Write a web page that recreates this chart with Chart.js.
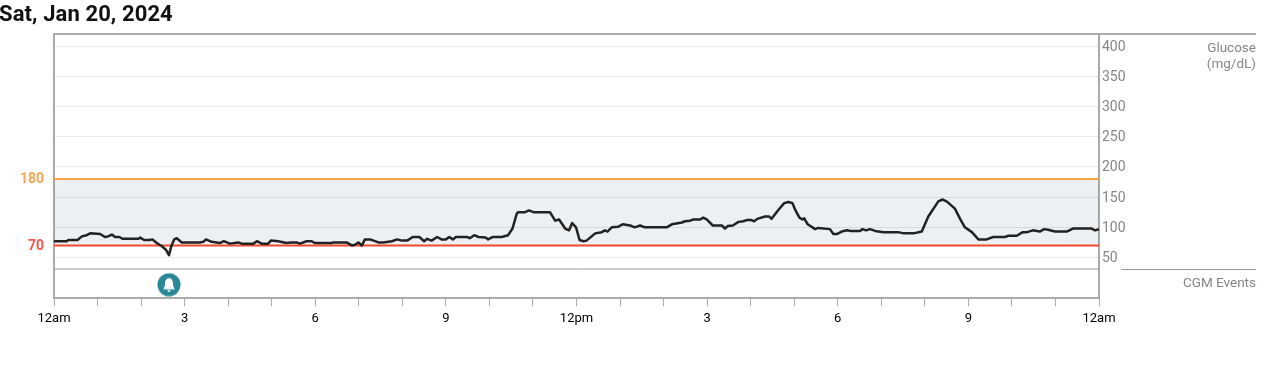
<!DOCTYPE html>
<html>
<head>
<meta charset="utf-8">
<title>Sat, Jan 20, 2024</title>
<script src="https://cdn.jsdelivr.net/npm/chart.js@4"></script>
<style>
    html, body { margin: 0; background: #fff; overflow: hidden; }
    #wrap { position: relative; width: 1273px; height: 365px; }
    #day { position: absolute; left: -1px; top: 1px; font: 700 22px Roboto, sans-serif; letter-spacing: 0.1px; color: #111; }
    canvas { position: absolute; left: 0; top: 0; }
</style>
</head>
<body>
<div id="wrap">
    <canvas id="cgmChart" width="1273" height="365"></canvas>
    <div id="day">Sat, Jan 20, 2024</div>
</div>
<script>
// readings, hours since midnight / mg/dL
const hours = [
    0, .29, .33, .54, .64, .75, .83, 1.06, 1.17, 1.24,
    1.33, 1.40, 1.50, 1.58, 1.94, 1.98, 2.07, 2.20, 2.26, 2.36,
    2.47, 2.57, 2.64, 2.70, 2.76, 2.82, 2.93, 3.35, 3.43, 3.49,
    3.62, 3.81, 3.90, 4.04, 4.23, 4.31, 4.58, 4.66, 4.77, 4.92,
    4.98, 5.15, 5.34, 5.44, 5.57, 5.65, 5.80, 5.92, 5.99, 6.11,
    6.38, 6.41, 6.72, 6.84, 6.91, 6.99, 7.07, 7.14, 7.26, 7.45,
    7.56, 7.76, 7.88, 7.99, 8.11, 8.24, 8.39, 8.50, 8.57, 8.67,
    8.80, 8.90, 9.00, 9.08, 9.16, 9.23, 9.48, 9.55, 9.65, 9.75,
    9.91, 9.97, 10.08, 10.28, 10.43, 10.53, 10.63, 10.66, 10.82, 10.91,
    11.01, 11.39, 11.51, 11.60, 11.74, 11.83, 11.90, 11.99, 12.07, 12.16,
    12.23, 12.43, 12.58, 12.65, 12.71, 12.81, 12.96, 13.06, 13.23, 13.34,
    13.46, 13.57, 14.07, 14.19, 14.42, 14.49, 14.61, 14.68, 14.84, 14.91,
    14.99, 15.13, 15.34, 15.41, 15.47, 15.59, 15.72, 15.83, 15.91, 16.02,
    16.08, 16.15, 16.33, 16.42, 16.48, 16.64, 16.77, 16.87, 16.96, 17.03,
    17.12, 17.19, 17.23, 17.31, 17.48, 17.55, 17.82, 17.90, 17.99, 18.09,
    18.21, 18.30, 18.51, 18.57, 18.65, 18.74, 18.86, 19.05, 19.39, 19.51,
    19.74, 19.93, 20.08, 20.31, 20.41, 20.50, 20.58, 20.69, 20.81, 20.92,
    21.08, 21.23, 21.42, 21.57, 21.84, 21.92, 22.11, 22.25, 22.35, 22.48,
    22.64, 22.74, 22.83, 22.99, 23.26, 23.40, 23.83, 23.91, 24
];
const glucose = [
    77, 77, 79, 79, 85, 87, 90, 89, 84, 85,
    88, 84, 84, 81, 81, 83, 79, 79, 80, 74,
    69, 63, 54, 70, 80, 82, 75, 75, 76, 80,
    76, 74, 77, 73, 75, 73, 73, 77, 73, 73,
    78, 77, 74, 75, 75, 73, 77, 77, 74, 74,
    74, 75, 75, 70, 71, 75, 70, 80, 80, 75,
    75, 77, 80, 78, 78, 84, 84, 77, 81, 78,
    84, 80, 80, 84, 80, 84, 84, 82, 87, 84,
    83, 80, 84, 84, 87, 98, 123, 125, 125, 128,
    125, 125, 111, 113, 98, 95, 107, 100, 79, 77,
    78, 90, 92, 95, 93, 100, 101, 105, 103, 100,
    103, 100, 100, 105, 108, 110, 111, 113, 113, 116,
    113, 103, 103, 98, 102, 103, 109, 110, 112, 112,
    110, 114, 118, 118, 114, 129, 140, 142, 140, 128,
    116, 113, 115, 105, 97, 99, 97, 89, 89, 93,
    95, 94, 94, 97, 95, 97, 94, 92, 92, 90,
    90, 93, 118, 143, 146, 143, 138, 131, 114, 100,
    92, 80, 80, 84, 84, 86, 86, 92, 92, 95,
    93, 97, 96, 93, 93, 98, 98, 95, 97
];
const targetLow = 70;
const targetHigh = 180;
const glucoseTicks = [50, 100, 150, 200, 250, 300, 350, 400];
const hourTicks = ['12am', '3', '6', '9', '12pm', '3', '6', '9', '12am'];
const eventHours = [2.64];

const GREY = '#aaaaaa';
const TEXT = '#8a8583';
const yMin = -17, yMax = 420, eventsTop = 31;

function bellIcon() {
    const c = document.createElement('canvas');
    c.width = 24; c.height = 24;
    const g = c.getContext('2d');
    g.fillStyle = '#2a8896';
    g.beginPath(); g.arc(12, 12, 11.5, 0, Math.PI * 2); g.fill();
    g.fillStyle = '#fff';
    g.beginPath();
    g.moveTo(12, 5.5);
    g.bezierCurveTo(15, 5.5, 16, 8, 16, 11);
    g.bezierCurveTo(16, 14, 17, 15, 18, 16.5);
    g.lineTo(6, 16.5);
    g.bezierCurveTo(7, 15, 8, 14, 8, 11);
    g.bezierCurveTo(8, 8, 9, 5.5, 12, 5.5);
    g.fill();
    g.fillRect(10.7, 17.3, 2.6, 1.6);
    return c;
}

// side labels and the rules that run past the plot on the right
const sidePanel = {
    id: 'sidePanel',
    afterDraw(chart) {
        const { ctx, chartArea, scales } = chart;
        const yDiv = Math.round(scales.y.getPixelForValue(eventsTop)) + 0.5;
        ctx.save();
        ctx.strokeStyle = GREY;
        ctx.lineWidth = 2;
        ctx.beginPath();
        ctx.moveTo(chartArea.left - 1, chartArea.top);
        ctx.lineTo(1256, chartArea.top);
        ctx.stroke();
        ctx.strokeStyle = '#999';
        ctx.lineWidth = 1;
        ctx.beginPath();
        ctx.moveTo(1121, yDiv);
        ctx.lineTo(1256, yDiv);
        ctx.stroke();
        ctx.fillStyle = TEXT;
        ctx.font = '13.5px Roboto';
        ctx.textAlign = 'right';
        ctx.textBaseline = 'middle';
        ctx.fillText('Glucose', 1256, 49);
        ctx.fillText('(mg/dL)', 1256, 65);
        ctx.fillText('CGM Events', 1256, 284);
        ctx.restore();
    }
};

new Chart(document.getElementById('cgmChart'), {
    type: 'line',
    data: {
        datasets: [
            {
                label: 'Glucose',
                data: hours.map((h, i) => ({ x: h, y: glucose[i] })),
                borderColor: '#222222',
                borderWidth: 2.5,
                borderJoinStyle: 'round',
                pointRadius: 0,
                order: 1
            },
            {
                label: 'High',
                data: [{ x: 0, y: targetHigh }, { x: 24, y: targetHigh }],
                borderColor: '#f5a547',
                borderWidth: 2,
                pointRadius: 0,
                fill: { target: 2 },
                backgroundColor: 'rgba(100,130,160,0.12)',
                order: 3
            },
            {
                label: 'Low',
                data: [{ x: 0, y: targetLow }, { x: 24, y: targetLow }],
                borderColor: '#f4492f',
                borderWidth: 2,
                pointRadius: 0,
                order: 2
            },
            {
                label: 'Divider',
                data: [{ x: 0, y: eventsTop }, { x: 24, y: eventsTop }],
                borderColor: '#999999',
                borderWidth: 1,
                pointRadius: 0,
                order: 4
            },
            {
                label: 'CGM Events',
                data: eventHours.map(h => ({ x: h, y: 5 })),
                showLine: false,
                pointStyle: bellIcon(),
                pointRadius: 12,
                order: 0
            }
        ]
    },
    options: {
        responsive: false,
        animation: false,
        events: [],
        layout: { padding: { top: 34 } },
        plugins: { legend: { display: false }, tooltip: { enabled: false } },
        scales: {
            x: {
                type: 'linear',
                min: 0,
                max: 24,
                afterFit(axis) { axis.height = 67; },
                border: { color: GREY, width: 2 },
                grid: { drawOnChartArea: false, color: GREY, tickLength: 8 },
                ticks: {
                    stepSize: 1,
                    autoSkip: false,
                    maxRotation: 0,
                    padding: 5,
                    color: '#000',
                    font: { family: 'Roboto', size: 13 },
                    callback: v => (v % 3 === 0 ? hourTicks[v / 3] : '')
                }
            },
            y: {
                position: 'right',
                min: yMin,
                max: yMax,
                afterBuildTicks(axis) { axis.ticks = glucoseTicks.map(v => ({ value: v })); },
                afterFit(axis) { axis.width = 174; },
                border: { color: GREY, width: 2 },
                grid: { color: '#e8e8e8', drawTicks: false },
                ticks: {
                    padding: 3,
                    labelOffset: 1,
                    color: TEXT,
                    font: { family: 'Roboto', size: 14 }
                }
            },
            yTarget: {
                position: 'left',
                min: yMin,
                max: yMax,
                afterBuildTicks(axis) { axis.ticks = [targetLow, targetHigh].map(v => ({ value: v })); },
                afterFit(axis) { axis.width = 54; },
                border: { color: GREY, width: 2 },
                grid: { drawOnChartArea: false, drawTicks: false },
                ticks: {
                    padding: 10,
                    labelOffset: 1,
                    color: c => (c.tick.value === targetHigh ? '#f7a650' : '#f4564a'),
                    font: { family: 'Roboto', size: 14, weight: '700' }
                }
            }
        }
    },
    plugins: [sidePanel]
});
</script>
</body>
</html>
